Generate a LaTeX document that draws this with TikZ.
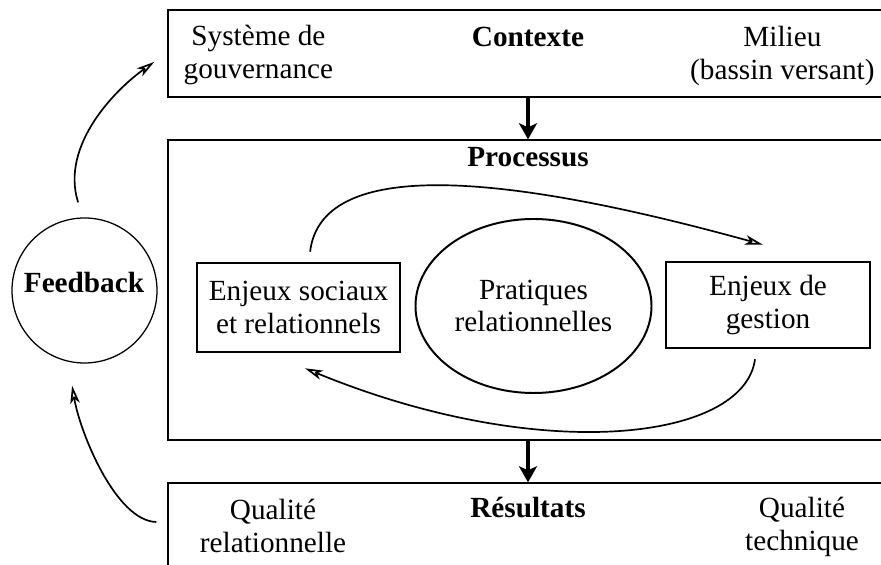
\documentclass[tikz,border=0pt]{standalone}
\usepackage{fontspec}
\setmainfont{Liberation Serif}
\usetikzlibrary{arrows.meta,shapes.geometric}

\begin{document}
\begin{tikzpicture}[
        font=\fontsize{20.8}{23.4}\selectfont,
        bande/.style={draw, line width=1pt, minimum width=18cm},
        enjeu/.style={draw, line width=1.8pt, align=center, inner sep=0pt},
        titre/.style={font=\fontsize{20.8}{23.4}\selectfont\bfseries, anchor=base},
        texte/.style={align=center},
        boucle/.style={line width=1.2pt, -{Stealth[open, length=4.5mm, width=2.4mm, inset=1.2mm]}},
        fleche/.style={line width=2.3pt, -{Stealth[length=4mm, width=4.5mm, inset=1mm]}}
    ]
    \useasboundingbox (0, 0) rectangle (22.025, 14.125);

    \node[bande, minimum height=2.175cm] (contexte) at (13.2, 12.7875) {};
    \node[bande, minimum height=7.5cm] (processus) at (13.2, 6.875) {};
    \node[bande, minimum height=2.15cm] (resultats) at (13.2, 0.975) {};

    \node[titre] (t-contexte) at (13.2, 12.95) {Contexte};
    \node[titre] (t-processus) at (13.2, 9.95) {Processus};
    \node[titre] (t-resultats) at (13.2, 1.175) {Résultats};
    \node[texte] (gouvernance) at (6.46, 12.755) {Système de\\gouvernance};
    \node[texte] (milieu) at (19.56, 12.72) {Milieu\\(bassin versant)};
    \node[texte] (q-relation) at (6.825, 0.975) {Qualité\\relationnelle};
    \node[texte] (q-technique) at (20.05, 0.9575) {Qualité\\technique};

    \node[draw, circle, line width=0.9pt, minimum size=3.625cm] (feedback) at (2.1125, 6.8625) {};
    \node[titre] (t-feedback) at (2.1, 6.8) {Feedback};

    \node[enjeu, minimum width=5.075cm, minimum height=2.225cm] (sociaux) at (7.4625, 6.4375) {Enjeux sociaux\\et relationnels};
    \node[draw, ellipse, line width=1.4pt, align=center, minimum width=5.675cm, minimum height=4.35cm] (pratiques) at (13.3375, 6.475) {Pratiques\\relationnelles};
    \node[enjeu, minimum width=5.1cm, minimum height=2.15cm] (gestion) at (19.2, 6.5) {Enjeux de\\gestion};

    \draw[fleche] (t-contexte |- contexte.south) -- (t-contexte |- processus.north);
    \draw[fleche] (t-contexte |- processus.south) -- (t-contexte |- resultats.north);

    \draw[boucle] ([xshift=2.9mm, yshift=2.5mm]sociaux.north) .. controls (8.0, 9.9) and (11.5, 10.1) .. ([xshift=-1.25mm, yshift=4mm]gestion.north);
    \draw[boucle] ([xshift=-3.25mm, yshift=-2.5mm]gestion.south) .. controls (18.6, 3.1) and (13.5, 2.5) .. ([xshift=1.6mm, yshift=-3.75mm]sociaux.south);

    \draw[boucle] ([xshift=-1.6mm, yshift=3.75mm]feedback.north) .. controls (1.5, 10.5) and (2.9, 11.9) .. ([xshift=-3.25mm, yshift=-2.1mm]contexte.west);
    \draw[boucle] ([xshift=-2.75mm, yshift=1mm]resultats.west) .. controls (2.9, 1.1) and (2.0, 3.3) .. ([xshift=-3.1mm, yshift=-5.5mm]feedback.south);

\end{tikzpicture}
\end{document}
